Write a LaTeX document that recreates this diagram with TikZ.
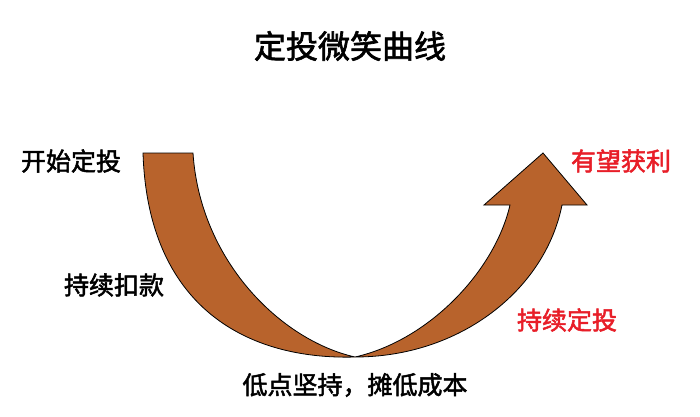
\documentclass[tikz,border=0pt]{standalone}
\usepackage{fontspec}
\setmainfont[FakeBold=2]{Noto Sans CJK SC}
\definecolor{smilebrown}{RGB}{184,99,44}
\definecolor{labelred}{RGB}{232,30,40}
\begin{document}
\begin{tikzpicture}[x=1pt,y=-1pt,
  lbl/.style={font=\fontsize{25}{28}\selectfont, inner sep=0pt, anchor=center},
  redlbl/.style={lbl, text=labelred},
  band/.style={fill=smilebrown, draw=black, line width=0.8pt, line join=miter}]
\useasboundingbox (0,0) rectangle (700,416);
\fill[white] (0,0) rectangle (700,416);
% title
\node[inner sep=0pt, font=\fontsize{32}{36}\selectfont] (title) at (350,46) {定投微笑曲线};
% smile curve arrow
\coordinate (ltopL) at (143,153);
\coordinate (ltopR) at (193,153);
\coordinate (bottom) at (355,357);
\coordinate (shaftL) at (510,205);
\coordinate (headL) at (484,205);
\coordinate (tip) at (543,153);
\coordinate (headR) at (587,205);
\coordinate (shaftR) at (562,205);
\path[band] (ltopL) -- (ltopR)
  .. controls (200,260) and (280,340) .. (bottom)
  .. controls (430,340) and (495,270) .. (shaftL)
  -- (headL) -- (tip) -- (headR) -- (shaftR)
  .. controls (545,290) and (460,357) .. (bottom)
  .. controls (248,360) and (148,308) .. (ltopL) -- cycle;
% labels
\node[lbl] (start) at (71,161) {开始定投};
\node[lbl] (keep) at (114,285) {持续扣款};
\node[lbl] (low) at (355,385) {低点坚持，摊低成本};
\node[redlbl] (cont) at (567,320) {持续定投};
\node[redlbl] (gain) at (621,161) {有望获利};
\end{tikzpicture}
\end{document}
